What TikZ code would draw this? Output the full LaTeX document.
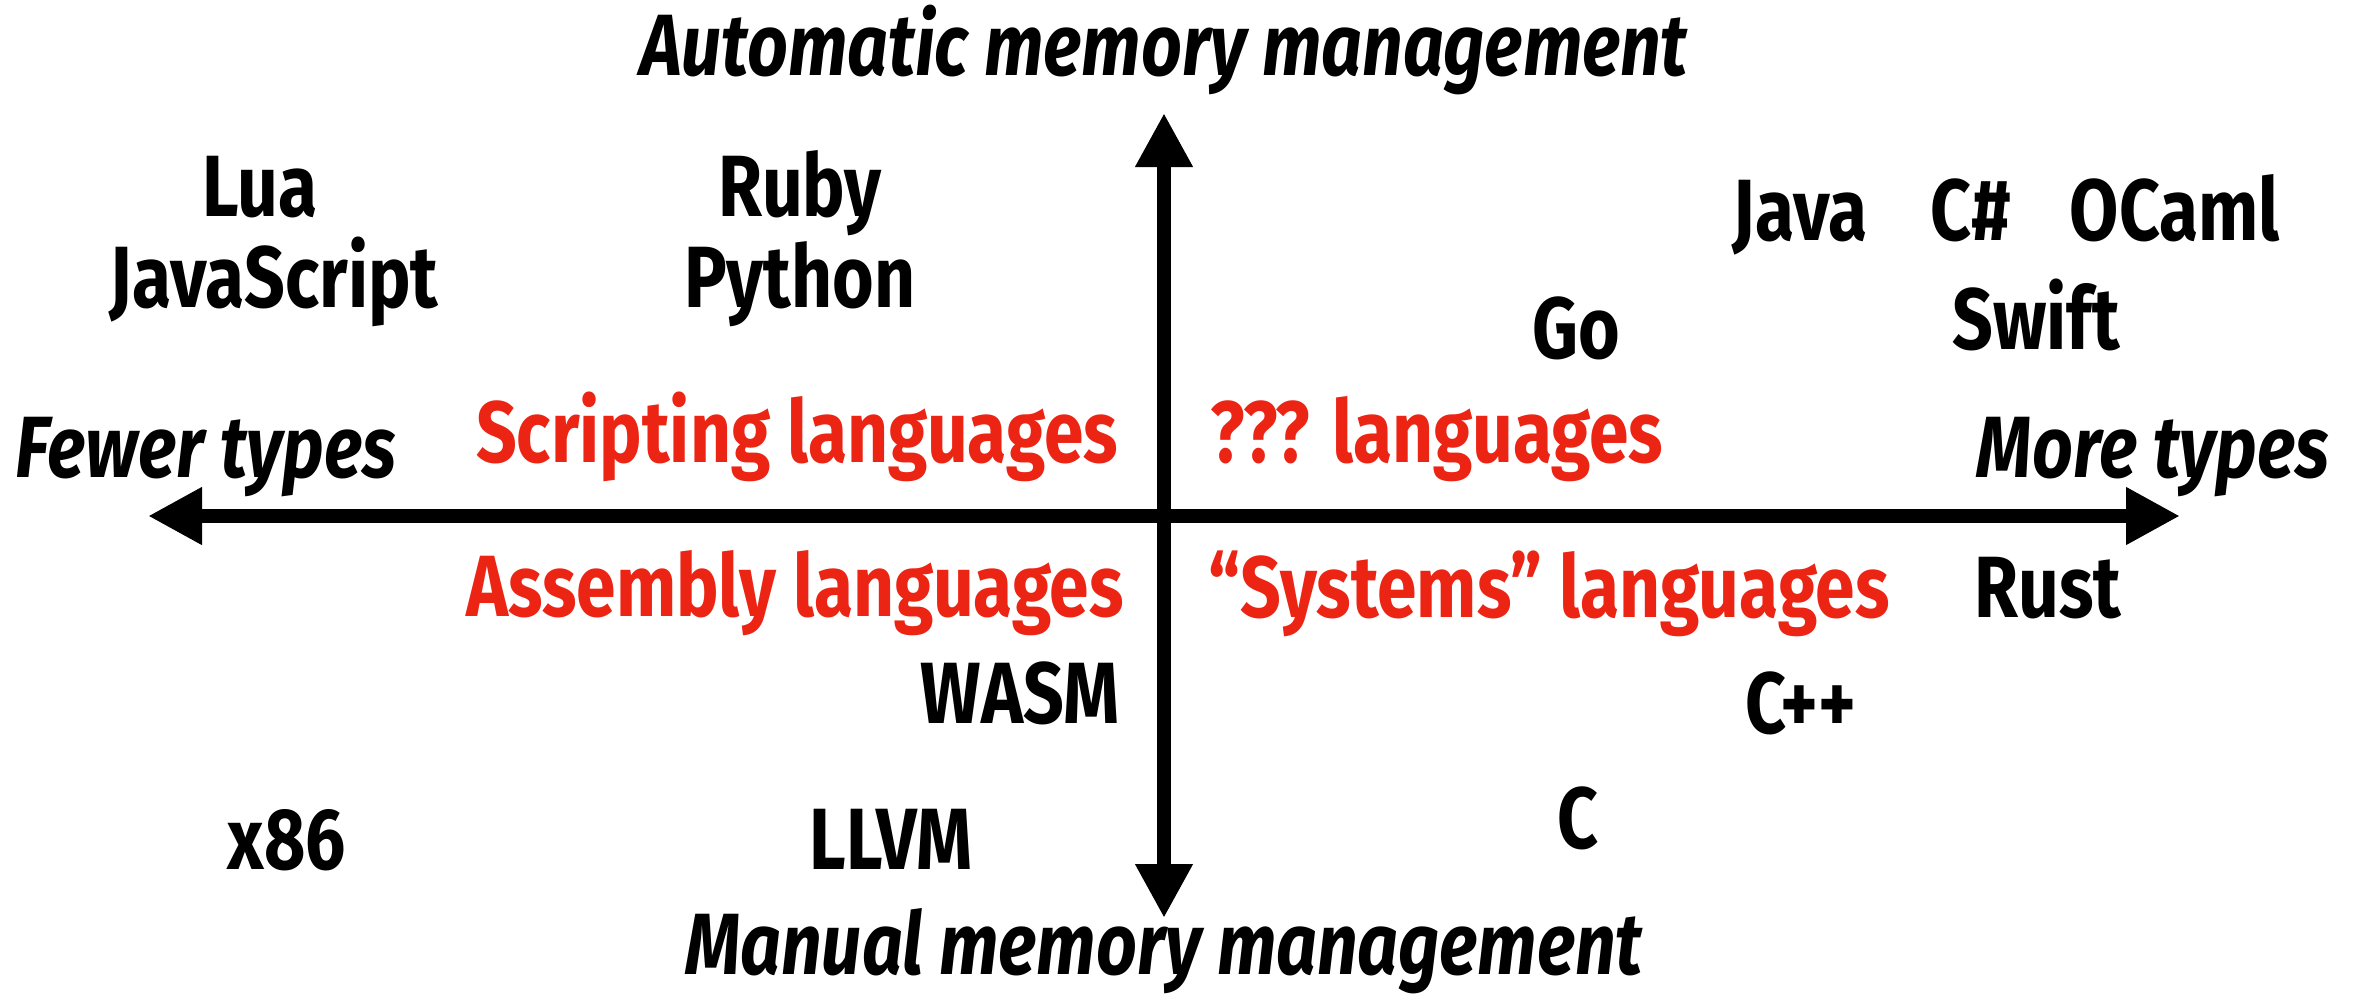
\documentclass[tikz,border=0pt]{standalone}
\usepackage{fontspec}
\setmainfont{Fira Sans}[FakeStretch=0.82]
\usetikzlibrary{arrows.meta}
\definecolor{hotred}{RGB}{236,36,20}
\begin{document}
\begin{tikzpicture}[x=1pt,y=-1pt,
  lang/.style={font=\fontsize{87}{87}\selectfont\bfseries, anchor=base, inner sep=0pt},
  quadrant/.style={lang, text=hotred},
  axislabel/.style={font=\fontsize{87}{87}\selectfont\bfseries\itshape, anchor=base, inner sep=0pt},
  axisline/.style={line width=14pt, {Triangle[length=54pt,width=54pt]}-{Triangle[length=54pt,width=54pt]}}]
\useasboundingbox (0,0) rectangle (2360,1002);

% axes
\coordinate (left)   at (148,516);
\coordinate (right)  at (2180,516);
\coordinate (top)    at (1164,113);
\coordinate (bottom) at (1164,918);
\draw[axisline] (left) -- (right);
\draw[axisline] (bottom) -- (top);

% axis labels
\node[axislabel] (auto)   at (1164,75)  {Automatic memory management};
\node[axislabel] (manual) at (1164,974) {Manual memory management};
\node[axislabel] (fewer)  at (206,477)  {Fewer types};
\node[axislabel] (more)   at (2153,477) {More types};

% quadrant names
\node[quadrant] (scripting) at (797,462)  {Scripting languages};
\node[quadrant] (unknown)   at (1437,462) {??? languages};
\node[quadrant] (assembly)  at (795,616)  {Assembly languages};
\node[quadrant] (systems)   at (1549,617) {“Systems” languages};

% languages
\node[lang] (lua)    at (260,216)  {Lua};
\node[lang] (js)     at (274,307)  {JavaScript};
\node[lang] (ruby)   at (800,216)  {Ruby};
\node[lang] (python) at (800,307)  {Python};
\node[lang] (java)   at (1800,240) {Java};
\node[lang] (csharp) at (1971,240) {C\#};
\node[lang] (ocaml)  at (2175,240) {OCaml};
\node[lang] (go)     at (1576,358) {Go};
\node[lang] (swift)  at (2036,349) {Swift};
\node[lang] (rust)   at (2048,617) {Rust};
\node[lang] (wasm)   at (1020,723) {WASM};
\node[lang] (cpp)    at (1801,733) {C++};
\node[lang] (x86)    at (287,869)  {x86};
\node[lang] (llvm)   at (891,869)  {LLVM};
\node[lang] (c)      at (1578,848) {C};
\end{tikzpicture}
\end{document}
